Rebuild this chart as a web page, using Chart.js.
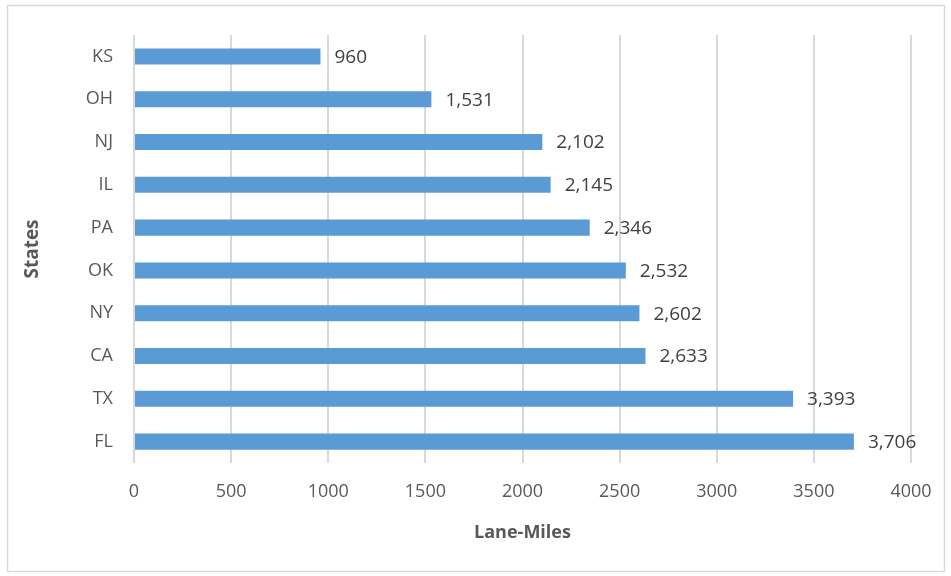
<!DOCTYPE html>
<html>
<head>
<meta charset="utf-8">
<script src="https://cdn.jsdelivr.net/npm/chart.js@4/dist/chart.umd.min.js"></script>
<style>
html,body{margin:0;padding:0;background:#fff;}
#wrap{position:absolute;left:0;top:0;width:951px;height:576px;}
</style>
</head>
<body>
<div id="wrap"><canvas id="c" width="951" height="576"></canvas></div>
<script>
const categories = ["KS","OH","NJ","IL","PA","OK","NY","CA","TX","FL"];
const laneMiles = [960,1531,2102,2145,2346,2532,2602,2633,3393,3706];
const xTicks = [0,500,1000,1500,2000,2500,3000,3500,4000];
const xTitle = "Lane-Miles";
const yTitle = "States";

const FONT = "'Open Sans', 'Noto Sans', sans-serif";

const framePlugin = {
  id: 'frame',
  beforeDraw(chart){
    const ctx = chart.ctx;
    ctx.save();
    ctx.fillStyle = '#fff';
    ctx.fillRect(0,0,chart.width,chart.height);
    ctx.strokeStyle = '#d9d9d9';
    ctx.lineWidth = 1.5;
    ctx.strokeRect(7.5,5.5,937,566);
    ctx.restore();
  }
};

const labelPlugin = {
  id: 'barLabels',
  afterDatasetsDraw(chart){
    const ctx = chart.ctx;
    const meta = chart.getDatasetMeta(0);
    ctx.save();
    ctx.font = "19px " + FONT;
    ctx.fillStyle = '#404040';
    ctx.textAlign = 'left';
    ctx.textBaseline = 'middle';
    meta.data.forEach((bar,i)=>{
      const v = chart.data.datasets[0].data[i];
      ctx.fillText(v.toLocaleString('en-US'), bar.x + 14, bar.y + 1);
    });
    ctx.restore();
  }
};

new Chart(document.getElementById('c'), {
  type: 'bar',
  data: {
    labels: categories,
    datasets: [{
      data: laneMiles,
      backgroundColor: '#5b9bd5',
      borderWidth: 0,
      barPercentage: 0.75,
      categoryPercentage: 0.5
    }]
  },
  options: {
    indexAxis: 'y',
    responsive: false,
    animation: false,
    devicePixelRatio: 1,
    layout: { padding: { top: 35, right: 40, left: 0, bottom: 0 } },
    plugins: { legend: { display: false }, tooltip: { enabled: false } },
    scales: {
      x: {
        min: 0, max: 4000,
        afterBuildTicks(scale){ scale.ticks = xTicks.map(v=>({value:v})); },
        grid: { color: '#d9d9d9', lineWidth: 2, drawTicks: false },
        border: { display: false },
        ticks: { color: '#595959', font: { family: FONT, size: 18 }, padding: 18, callback: (v)=>String(v) },
        title: { display: true, text: xTitle, color: '#595959', font: { family: FONT, size: 18, weight: 'bold' }, padding: { top: 4, bottom: 32 } },
        afterFit(scale){ scale.height = 113; }
      },
      y: {
        grid: { display: false, drawTicks: false },
        border: { display: false },
        ticks: { color: '#595959', font: { family: FONT, size: 18 }, padding: 21 },
        title: { display: true, text: yTitle, color: '#595959', font: { family: FONT, size: 19, weight: 'bold' }, padding: { top: 21, bottom: 0 } },
        afterFit(scale){ scale.width = 134; }
      }
    }
  },
  plugins: [framePlugin, labelPlugin]
});
</script>
</body>
</html>
